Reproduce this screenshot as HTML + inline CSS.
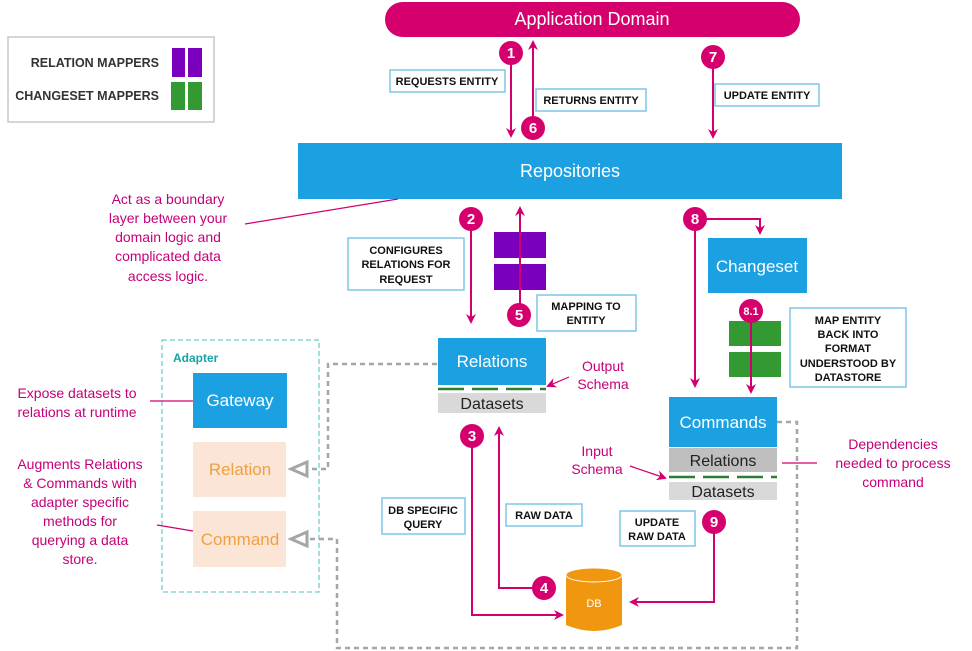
<!DOCTYPE html>
<html><head><meta charset="utf-8"><style>
html,body{margin:0;padding:0;background:#fff;}
svg{display:block;font-family:"Liberation Sans",sans-serif;}
.lb{font-size:11px;font-weight:bold;fill:#111;text-anchor:middle;}
.bx{fill:#fff;stroke:#7fc7e6;stroke-width:1.5;}
.mg{fill:#c5007a;font-size:14px;text-anchor:middle;}
.cn{fill:#fff;font-weight:bold;font-size:15px;text-anchor:middle;}
.pk{stroke:#d1006c;stroke-width:2;fill:none;}
.gd{stroke:#a6a6a6;stroke-width:2.5;fill:none;stroke-dasharray:5 4;}
</style></head><body>
<svg width="972" height="651" viewBox="0 0 972 651">
<defs>
<marker id="ah" markerWidth="10" markerHeight="10" refX="8" refY="5" orient="auto" markerUnits="userSpaceOnUse"><path d="M0,0 L10,5 L0,10 L3,5 Z" fill="#d1006c"/></marker>
</defs>
<rect x="8" y="37" width="206" height="85" fill="#fff" stroke="#c8c8c8" stroke-width="1.5"/>
<text x="159" y="67" font-size="12.5" font-weight="bold" fill="#333" text-anchor="end">RELATION MAPPERS</text>
<text x="159" y="100" font-size="12.5" font-weight="bold" fill="#333" text-anchor="end">CHANGESET MAPPERS</text>
<rect x="172" y="48" width="13" height="29" fill="#7a00bd"/><rect x="188" y="48" width="14" height="29" fill="#7a00bd"/>
<rect x="171" y="82" width="14" height="28" fill="#339933"/><rect x="188" y="82" width="14" height="28" fill="#339933"/>
<rect x="385" y="2" width="415" height="35" rx="17.5" fill="#d5006e"/>
<text x="592" y="25" font-size="18" fill="#fff" text-anchor="middle">Application Domain</text>
<rect x="298" y="143" width="544" height="56" fill="#1ba1e2"/>
<text x="570" y="177" font-size="18" fill="#fff" text-anchor="middle">Repositories</text>
<line x1="511" y1="60" x2="511" y2="136" class="pk" marker-end="url(#ah)"/>
<line x1="533" y1="120" x2="533" y2="42" class="pk" marker-end="url(#ah)"/>
<line x1="713" y1="62" x2="713" y2="137" class="pk" marker-end="url(#ah)"/>
<rect class="bx" x="390" y="70" width="115" height="22"/><text class="lb" x="447" y="85">REQUESTS ENTITY</text>
<rect class="bx" x="536" y="89" width="110" height="22"/><text class="lb" x="591" y="104">RETURNS ENTITY</text>
<rect class="bx" x="715" y="84" width="104" height="22"/><text class="lb" x="767" y="99">UPDATE ENTITY</text>
<text class="mg" x="168" y="204">Act as a boundary</text>
<text class="mg" x="168" y="223">layer between your</text>
<text class="mg" x="168" y="242">domain logic and</text>
<text class="mg" x="168" y="261">complicated data</text>
<text class="mg" x="168" y="281">access logic.</text>
<line x1="245" y1="224" x2="398" y2="199" stroke="#d1006c" stroke-width="1.2"/>
<line x1="471" y1="226" x2="471" y2="322" class="pk" marker-end="url(#ah)"/>
<rect class="bx" x="348" y="238" width="116" height="52"/>
<text class="lb" x="406" y="254">CONFIGURES</text><text class="lb" x="406" y="268">RELATIONS FOR</text><text class="lb" x="406" y="283">REQUEST</text>
<rect x="494" y="232" width="52" height="26" fill="#7a00bd"/><rect x="494" y="264" width="52" height="26" fill="#7a00bd"/>
<line x1="520" y1="308" x2="520" y2="208" class="pk" marker-end="url(#ah)"/>
<rect class="bx" x="537" y="295" width="99" height="36"/>
<text class="lb" x="586" y="310">MAPPING TO</text><text class="lb" x="586" y="324">ENTITY</text>
<rect x="438" y="338" width="108" height="47" fill="#1ba1e2"/>
<text x="492" y="367" font-size="17" fill="#fff" text-anchor="middle">Relations</text>
<line x1="438" y1="389" x2="546" y2="389" stroke="#2e7d32" stroke-width="2.5" stroke-dasharray="26 8"/>
<rect x="438" y="393" width="108" height="20" fill="#d9d9d9"/>
<text x="492" y="409" font-size="16" fill="#222" text-anchor="middle">Datasets</text>
<text class="mg" x="603" y="371">Output</text><text class="mg" x="603" y="389">Schema</text>
<line x1="569" y1="377" x2="548" y2="386" stroke="#d1006c" stroke-width="1.2" marker-end="url(#ah)"/>
<line x1="695" y1="226" x2="695" y2="386" class="pk" marker-end="url(#ah)"/>
<polyline points="705,219 760,219 760,233" class="pk" marker-end="url(#ah)"/>
<rect x="708" y="238" width="99" height="55" fill="#1ba1e2"/>
<text x="757" y="272" font-size="17" fill="#fff" text-anchor="middle">Changeset</text>
<rect x="729" y="321" width="52" height="25" fill="#339933"/><rect x="729" y="352" width="52" height="25" fill="#339933"/>
<line x1="751" y1="318" x2="751" y2="392" class="pk" marker-end="url(#ah)"/>
<rect class="bx" x="790" y="308" width="116" height="79"/>
<text class="lb" x="848" y="324">MAP ENTITY</text><text class="lb" x="848" y="338">BACK INTO</text><text class="lb" x="848" y="352">FORMAT</text><text class="lb" x="848" y="367">UNDERSTOOD BY</text><text class="lb" x="848" y="381">DATASTORE</text>
<rect x="669" y="397" width="108" height="50" fill="#1ba1e2"/>
<text x="723" y="428" font-size="17" fill="#fff" text-anchor="middle">Commands</text>
<rect x="669" y="448" width="108" height="24" fill="#bfbfbf"/>
<text x="723" y="466" font-size="16" fill="#222" text-anchor="middle">Relations</text>
<line x1="669" y1="477" x2="777" y2="477" stroke="#2e7d32" stroke-width="2.5" stroke-dasharray="26 8"/>
<rect x="669" y="482" width="108" height="18" fill="#d9d9d9"/>
<text x="723" y="497" font-size="16" fill="#222" text-anchor="middle">Datasets</text>
<text class="mg" x="597" y="456">Input</text><text class="mg" x="597" y="474">Schema</text>
<line x1="630" y1="466" x2="665" y2="478" stroke="#d1006c" stroke-width="1.2" marker-end="url(#ah)"/>
<text class="mg" x="893" y="449">Dependencies</text><text class="mg" x="893" y="468">needed to process</text><text class="mg" x="893" y="487">command</text>
<line x1="782" y1="463" x2="817" y2="463" stroke="#d1006c" stroke-width="1.2"/>
<rect x="162" y="340" width="157" height="252" fill="none" stroke="#6ccfcf" stroke-width="1.3" stroke-dasharray="5 3"/>
<text x="173" y="362" font-size="12" font-weight="bold" fill="#1aa3a3">Adapter</text>
<rect x="193" y="373" width="94" height="55" fill="#1ba1e2"/>
<text x="240" y="406" font-size="17" fill="#fff" text-anchor="middle">Gateway</text>
<rect x="193" y="442" width="93" height="55" fill="#fbe5d6"/>
<text x="240" y="475" font-size="17" fill="#f0a040" text-anchor="middle">Relation</text>
<rect x="193" y="511" width="93" height="56" fill="#fbe5d6"/>
<text x="240" y="545" font-size="17" fill="#f0a040" text-anchor="middle">Command</text>
<text class="mg" x="77" y="398">Expose datasets to</text><text class="mg" x="77" y="417">relations at runtime</text>
<line x1="150" y1="401" x2="193" y2="401" stroke="#d1006c" stroke-width="1.2"/>
<text class="mg" x="80" y="469">Augments Relations</text><text class="mg" x="80" y="488">&amp; Commands with</text><text class="mg" x="80" y="507">adapter specific</text><text class="mg" x="80" y="526">methods for</text><text class="mg" x="80" y="545">querying a data</text><text class="mg" x="80" y="564">store.</text>
<line x1="157" y1="525" x2="193" y2="531" stroke="#d1006c" stroke-width="1.2"/>
<polyline points="437,364 328,364 328,469 310,469" class="gd"/>
<polygon points="307,462 291,469 307,476" fill="#fff" stroke="#a6a6a6" stroke-width="3"/>
<polyline points="777,422 797,422 797,648 337,648 337,539 310,539" class="gd"/>
<polygon points="307,532 291,539 307,546" fill="#fff" stroke="#a6a6a6" stroke-width="3"/>
<polyline points="472,442 472,615 562,615" class="pk" marker-end="url(#ah)"/>
<polyline points="538,588 499,588 499,428" class="pk" marker-end="url(#ah)"/>
<polyline points="714,528 714,602 631,602" class="pk" marker-end="url(#ah)"/>
<rect class="bx" x="382" y="498" width="83" height="36"/><text class="lb" x="423" y="514">DB SPECIFIC</text><text class="lb" x="423" y="528">QUERY</text>
<rect class="bx" x="506" y="504" width="76" height="22"/><text class="lb" x="544" y="519">RAW DATA</text>
<rect class="bx" x="620" y="511" width="75" height="35"/><text class="lb" x="657" y="526">UPDATE</text><text class="lb" x="657" y="540">RAW DATA</text>
<path d="M566,575 L566,625 Q594,637 622,625 L622,575 Z" fill="#f0960f"/>
<ellipse cx="594" cy="575" rx="28" ry="7" fill="#f0960f" stroke="#fff" stroke-width="1"/>
<text x="594" y="607" font-size="11" fill="#fff" text-anchor="middle">DB</text>
<g>
<circle cx="511" cy="53" r="12" fill="#d5006e"/><text class="cn" x="511" y="58">1</text>
<circle cx="533" cy="128" r="12" fill="#d5006e"/><text class="cn" x="533" y="133">6</text>
<circle cx="713" cy="57" r="12" fill="#d5006e"/><text class="cn" x="713" y="62">7</text>
<circle cx="471" cy="219" r="12" fill="#d5006e"/><text class="cn" x="471" y="224">2</text>
<circle cx="519" cy="315" r="12" fill="#d5006e"/><text class="cn" x="519" y="320">5</text>
<circle cx="695" cy="219" r="12" fill="#d5006e"/><text class="cn" x="695" y="224">8</text>
<circle cx="751" cy="311" r="12" fill="#d5006e"/><text x="751" y="315" font-size="11" font-weight="bold" fill="#fff" text-anchor="middle">8.1</text>
<circle cx="472" cy="436" r="12" fill="#d5006e"/><text class="cn" x="472" y="441">3</text>
<circle cx="544" cy="588" r="12" fill="#d5006e"/><text class="cn" x="544" y="593">4</text>
<circle cx="714" cy="522" r="12" fill="#d5006e"/><text class="cn" x="714" y="527">9</text>
</g>
</svg>
</body></html>
